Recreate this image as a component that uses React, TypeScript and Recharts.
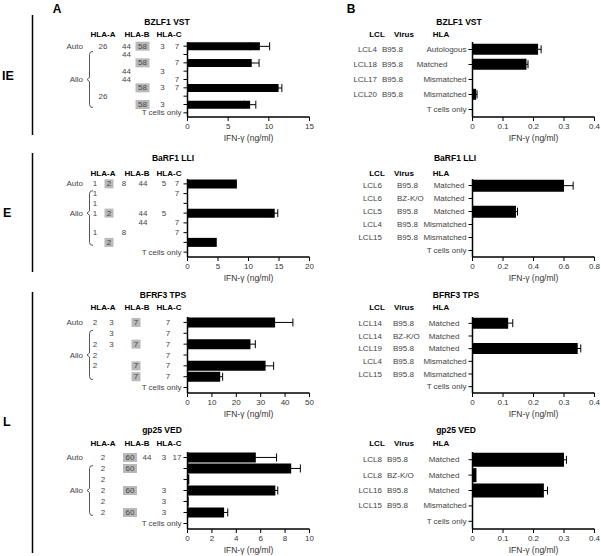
import React from "react";
import { BarChart, Bar, XAxis, YAxis, ErrorBar } from "recharts";

const FONT = "'Liberation Sans', Arial, Helvetica, sans-serif";
const TXT = "#444";

// ---------- IE : BZLF1 VST ----------
const bzlf1Stim = ["Auto", "Allo", "Allo", "Allo", "Allo", "Allo", "Allo", "Allo", "T cells only"];
// "*" = shared (restricting) allele, shown on a grey box
const bzlf1Alleles = [
  ["26", "44", "*58", "3", "7"],
  ["", "44", "", "", ""],
  ["", "", "*58", "", "7"],
  ["", "44", "", "3", ""],
  ["", "44", "", "", "7"],
  ["", "", "*58", "3", "7"],
  ["26", "", "", "", ""],
  ["", "", "*58", "3", ""],
  ["", "", "", "", ""],
];
const bzlf1Ifn = [8.9, 0, 7.9, 0, 0, 11.2, 0, 7.7, 0];
const bzlf1Err = [1.2, 0, 0.9, 0, 0, 0.4, 0, 0.7, 0];
const bzlf1Ticks = [0, 5, 10, 15];

const bzlf1Lcl = ["LCL4", "LCL18", "LCL17", "LCL20", "T cells only"];
const bzlf1Virus = ["B95.8", "B95.8", "B95.8", "B95.8", ""];
const bzlf1Hla = ["Autologous", "Matched", "Mismatched", "Mismatched", ""];
const bzlf1LclIfn = [0.215, 0.177, 0, 0.012, 0];
const bzlf1LclErr = [0.01, 0.005, 0, 0.003, 0];

// ---------- E : BaRF1 LLI ----------
const barf1Stim = ["Auto", "Allo", "Allo", "Allo", "Allo", "Allo", "Allo", "T cells only"];
const barf1Alleles = [
  ["1", "*2", "8", "44", "5", "7"],
  ["1", "", "", "", "", "7"],
  ["1", "", "", "", "", ""],
  ["1", "*2", "", "44", "5", ""],
  ["", "", "", "44", "", "7"],
  ["1", "", "8", "", "", "7"],
  ["", "*2", "", "", "", ""],
  ["", "", "", "", "", ""],
];
const barf1Ifn = [8.1, 0, 0, 14.3, 0, 0, 4.8, 0];
const barf1Err = [0, 0, 0, 0.5, 0, 0, 0, 0];
const barf1Ticks = [0, 5, 10, 15, 20];

const barf1Lcl = ["LCL6", "LCL6", "LCL5", "LCL4", "LCL15", "T cells only"];
const barf1Virus = ["B95.8", "BZ-K/O", "B95.8", "B95.8", "B95.8", ""];
const barf1Hla = ["Matched", "Matched", "Matched", "Mismatched", "Mismatched", ""];
const barf1LclIfn = [0.6, 0, 0.285, 0, 0, 0];
const barf1LclErr = [0.06, 0, 0.01, 0, 0, 0];

// ---------- L : BFRF3 TPS ----------
const bfrf3Stim = ["Auto", "Allo", "Allo", "Allo", "Allo", "Allo", "T cells only"];
const bfrf3Alleles = [
  ["2", "3", "*7", "7"],
  ["", "3", "", "7"],
  ["2", "3", "*7", "7"],
  ["2", "", "", "7"],
  ["2", "", "*7", "7"],
  ["", "", "*7", "7"],
  ["", "", "", ""],
];
const bfrf3Ifn = [35.9, 0, 25.8, 0, 32.0, 13.4, 0];
const bfrf3Err = [7.3, 0, 2.0, 0, 3.3, 1.0, 0];
const bfrf3Ticks = [0, 10, 20, 30, 40, 50];

const bfrf3Lcl = ["LCL14", "LCL14", "LCL19", "LCL4", "LCL15", "T cells only"];
const bfrf3Virus = ["B95.8", "BZ-K/O", "B95.8", "B95.8", "B95.8", ""];
const bfrf3Hla = ["Matched", "Matched", "Matched", "Mismatched", "Mismatched", ""];
const bfrf3LclIfn = [0.117, 0, 0.345, 0, 0, 0];
const bfrf3LclErr = [0.015, 0, 0.01, 0, 0, 0];

// ---------- L : gp25 VED ----------
const gp25Stim = ["Auto", "Allo", "Allo", "Allo", "Allo", "Allo", "T cells only"];
const gp25Alleles = [
  ["2", "*60", "44", "3", "17"],
  ["2", "*60", "", "", ""],
  ["2", "", "", "", ""],
  ["2", "*60", "", "3", ""],
  ["2", "", "", "3", ""],
  ["2", "*60", "", "3", ""],
  ["", "", "", "", ""],
];
const gp25Ifn = [5.6, 8.5, 0.15, 7.2, 0.1, 3.0, 0];
const gp25Err = [1.7, 0.75, 0, 0.2, 0, 0.3, 0];
const gp25Ticks = [0, 2, 4, 6, 8, 10];

const gp25Lcl = ["LCL8", "LCL8", "LCL16", "LCL15", "T cells only"];
const gp25Virus = ["B95.8", "BZ-K/O", "B95.8", "B95.8", ""];
const gp25Hla = ["Matched", "Matched", "Matched", "Mismatched", ""];
const gp25LclIfn = [0.3, 0.013, 0.234, 0, 0];
const gp25LclErr = [0.008, 0, 0.012, 0, 0];

const lclTicks4 = [0, 0.1, 0.2, 0.3, 0.4];
const lclTicks8 = [0, 0.2, 0.4, 0.6, 0.8];

// ---------- layout ----------
const A_AXIS = 187.5;
const B_AXIS = 472.5;
const PLOT_W = 122;
const MT = 4;
const XH = 18;

const ROWS = [
  { top: 42, bottom: 117, titleY: 21.5, headerY: 34 },
  { top: 178.5, bottom: 256.5, titleY: 158, headerY: 173 },
  { top: 316.5, bottom: 392.5, titleY: 295, headerY: 307.5 },
  { top: 452, bottom: 529, titleY: 430, headerY: 443.5 },
];

const axisLine = { stroke: "#000", strokeWidth: 1.5 };
const tickLine = { stroke: "#000", strokeWidth: 1 };
const tickFont = { fontSize: 8, fill: "#333", fontFamily: FONT };

const Label = ({ x, y, anchor = "middle", children }: any) => (
  <text
    x={x}
    y={y}
    textAnchor={anchor}
    dominantBaseline="central"
    fontSize={8}
    fill={TXT}
    stroke="none"
    fontFamily={FONT}
  >
    {children}
  </text>
);

type AlleleProps = {
  stim: string[];
  alleles: string[][];
  ifn: number[];
  err: number[];
  ticks: number[];
  cols: number[];
  pos: { top: number; bottom: number };
};

const AllelePanel = ({ stim, alleles, ifn, err, ticks, cols, pos }: AlleleProps) => {
  const data = stim.map((s, i) => ({ key: String(i), value: ifn[i], err: err[i] }));
  const n = stim.length;
  const band = (pos.bottom - pos.top) / n;
  const firstAllo = stim.indexOf("Allo");
  const lastAllo = stim.lastIndexOf("Allo");
  const alloMid = Math.floor((firstAllo + lastAllo) / 2);
  const width = A_AXIS + PLOT_W + 14;
  const height = MT + (pos.bottom - pos.top) + XH;

  const renderTick = (p: any) => {
    const i = Number(p.payload.value);
    const y = p.y;
    const items: React.ReactNode[] = [];
    if (stim[i] === "T cells only") {
      items.push(
        <Label key="t" x={A_AXIS - 6} y={y} anchor="end">
          T cells only
        </Label>
      );
    } else {
      alleles[i].forEach((a, c) => {
        if (!a) return;
        const hi = a.startsWith("*");
        const label = hi ? a.slice(1) : a;
        if (hi) {
          const w = label.length * 5 + 4;
          items.push(
            <rect key={`r${c}`} x={cols[c] - w / 2} y={y - 4.5} width={w} height={9} fill="#b9b9b9" stroke="none" />
          );
        }
        items.push(
          <Label key={`a${c}`} x={cols[c]} y={y}>
            {label}
          </Label>
        );
      });
    }
    if (i === 0) {
      items.push(
        <Label key="auto" x={83} y={y} anchor="end">
          {stim[0]}
        </Label>
      );
    }
    if (i === alloMid) {
      const top = y - (alloMid - firstAllo) * band - 3;
      const bot = y + (lastAllo - alloMid) * band + 3;
      items.push(
        <Label key="allo" x={83} y={y} anchor="end">
          Allo
        </Label>
      );
      items.push(
        <path
          key="brace"
          d={`M93 ${top} Q89.5 ${top} 89.5 ${top + 3} L89.5 ${y - 2} L87 ${y} L89.5 ${y + 2} L89.5 ${bot - 3} Q89.5 ${bot} 93 ${bot}`}
          fill="none"
          stroke="#555"
          strokeWidth={1}
        />
      );
    }
    return <g>{items}</g>;
  };

  return (
    <div style={{ position: "absolute", left: 0, top: pos.top - MT }}>
      <BarChart
        width={width}
        height={height}
        data={data}
        layout="vertical"
        margin={{ top: MT, right: width - A_AXIS - PLOT_W, bottom: 0, left: 0 }}
        barCategoryGap="4%"
      >
        <XAxis
          type="number"
          domain={[0, ticks[ticks.length - 1]]}
          ticks={ticks}
          height={XH}
          axisLine={axisLine}
          tickLine={tickLine}
          tickSize={4}
          tickMargin={2}
          tick={tickFont}
        />
        <YAxis
          type="category"
          dataKey="key"
          width={A_AXIS}
          interval={0}
          axisLine={axisLine}
          tickLine={tickLine}
          tickSize={4}
          tick={renderTick}
        />
        <Bar dataKey="value" fill="#000" isAnimationActive={false}>
          <ErrorBar dataKey="err" direction="x" width={4} stroke="#000" strokeWidth={1} />
        </Bar>
      </BarChart>
    </div>
  );
};

type LclProps = {
  lcl: string[];
  virus: string[];
  hla: string[];
  ifn: number[];
  err: number[];
  ticks: number[];
  cols: number[]; // lcl right edge, virus left edge, hla centre
  pos: { top: number; bottom: number };
  gap: string;
};

const LclPanel = ({ lcl, virus, hla, ifn, err, ticks, cols, pos, gap }: LclProps) => {
  const data = lcl.map((s, i) => ({ key: String(i), value: ifn[i], err: err[i] }));
  const width = 601;
  const height = MT + (pos.bottom - pos.top) + XH;

  const renderTick = (p: any) => {
    const i = Number(p.payload.value);
    const y = p.y;
    if (!virus[i]) {
      return (
        <Label x={B_AXIS - 6} y={y} anchor="end">
          {lcl[i]}
        </Label>
      );
    }
    const long = hla[i].length >= 10;
    return (
      <g>
        <Label x={cols[0]} y={y} anchor="end">
          {lcl[i]}
        </Label>
        <Label x={cols[1]} y={y} anchor="start">
          {virus[i]}
        </Label>
        <Label x={long ? B_AXIS - 6 : cols[2]} y={y} anchor={long ? "end" : "middle"}>
          {hla[i]}
        </Label>
      </g>
    );
  };

  return (
    <div style={{ position: "absolute", left: 0, top: pos.top - MT }}>
      <BarChart
        width={width}
        height={height}
        data={data}
        layout="vertical"
        margin={{ top: MT, right: width - B_AXIS - PLOT_W, bottom: 0, left: 0 }}
        barCategoryGap={gap}
      >
        <XAxis
          type="number"
          domain={[0, ticks[ticks.length - 1]]}
          ticks={ticks}
          height={XH}
          axisLine={axisLine}
          tickLine={tickLine}
          tickSize={4}
          tickMargin={2}
          tick={tickFont}
        />
        <YAxis
          type="category"
          dataKey="key"
          width={B_AXIS}
          interval={0}
          axisLine={axisLine}
          tickLine={tickLine}
          tickSize={4}
          tick={renderTick}
        />
        <Bar dataKey="value" fill="#000" isAnimationActive={false}>
          <ErrorBar dataKey="err" direction="x" width={4} stroke="#000" strokeWidth={1} />
        </Bar>
      </BarChart>
    </div>
  );
};

const titlesA = [
  { title: "BZLF1 VST", x: 167 },
  { title: "BaRF1 LLI", x: 173 },
  { title: "BFRF3 TPS", x: 163 },
  { title: "gp25 VED", x: 162 },
];
const titlesB = [
  { title: "BZLF1 VST", x: 459 },
  { title: "BaRF1 LLI", x: 455 },
  { title: "BFRF3 TPS", x: 456 },
  { title: "gp25 VED", x: 456 },
];

const Overlay = () => (
  <svg
    width={601}
    height={556}
    style={{ position: "absolute", left: 0, top: 0, pointerEvents: "none" }}
    fontFamily={FONT}
  >
    <text x={57} y={13} fontSize={12} fontWeight="bold" textAnchor="middle">A</text>
    <text x={351} y={13} fontSize={12} fontWeight="bold" textAnchor="middle">B</text>
    <text x={2} y={80} fontSize={12.5} fontWeight="bold">IE</text>
    <text x={3} y={217} fontSize={12.5} fontWeight="bold">E</text>
    <text x={3} y={426} fontSize={12.5} fontWeight="bold">L</text>
    <line x1={32.5} x2={32.5} y1={15} y2={135} stroke="#000" strokeWidth={1.5} />
    <line x1={32.5} x2={32.5} y1={153} y2={272} stroke="#000" strokeWidth={1.5} />
    <line x1={32.5} x2={32.5} y1={292} y2={553} stroke="#000" strokeWidth={1.5} />
    {ROWS.map((r, k) => (
      <g key={k}>
        <text x={titlesA[k].x} y={r.titleY} fontSize={8.5} fontWeight="bold" textAnchor="middle" dominantBaseline="central">
          {titlesA[k].title}
        </text>
        <text x={titlesB[k].x} y={r.titleY} fontSize={8.5} fontWeight="bold" textAnchor="middle" dominantBaseline="central">
          {titlesB[k].title}
        </text>
        <g fontSize={8} fontWeight="bold" textAnchor="middle" dominantBaseline="central">
          <text x={103} y={r.headerY}>HLA-A</text>
          <text x={137} y={r.headerY}>HLA-B</text>
          <text x={169} y={r.headerY}>HLA-C</text>
          <text x={377} y={r.headerY}>LCL</text>
          <text x={404} y={r.headerY}>Virus</text>
          <text x={441} y={r.headerY}>HLA</text>
        </g>
        <g fontSize={8.5} fill="#333" textAnchor="middle" dominantBaseline="central">
          <text x={A_AXIS + PLOT_W / 2} y={r.bottom + 21}>IFN-γ (ng/ml)</text>
          <text x={B_AXIS + PLOT_W / 2} y={r.bottom + 21}>IFN-γ (ng/ml)</text>
        </g>
      </g>
    ))}
  </svg>
);

export default function App() {
  return (
    <div
      style={{
        position: "absolute",
        left: 0,
        top: 0,
        width: 601,
        height: 556,
        background: "#fff",
        overflow: "hidden",
        fontFamily: FONT,
      }}
    >
      <AllelePanel stim={bzlf1Stim} alleles={bzlf1Alleles} ifn={bzlf1Ifn} err={bzlf1Err} ticks={bzlf1Ticks} cols={[103, 126.5, 142.5, 162.5, 177]} pos={ROWS[0]} />
      <AllelePanel stim={barf1Stim} alleles={barf1Alleles} ifn={barf1Ifn} err={barf1Err} ticks={barf1Ticks} cols={[95, 109, 124, 143, 164, 177]} pos={ROWS[1]} />
      <AllelePanel stim={bfrf3Stim} alleles={bfrf3Alleles} ifn={bfrf3Ifn} err={bfrf3Err} ticks={bfrf3Ticks} cols={[95, 111.5, 136, 168]} pos={ROWS[2]} />
      <AllelePanel stim={gp25Stim} alleles={gp25Alleles} ifn={gp25Ifn} err={gp25Err} ticks={gp25Ticks} cols={[103, 130, 147, 164, 177]} pos={ROWS[3]} />

      <LclPanel lcl={bzlf1Lcl} virus={bzlf1Virus} hla={bzlf1Hla} ifn={bzlf1LclIfn} err={bzlf1LclErr} ticks={lclTicks4} cols={[377, 382, 432]} pos={ROWS[0]} gap="12%" />
      <LclPanel lcl={barf1Lcl} virus={barf1Virus} hla={barf1Hla} ifn={barf1LclIfn} err={barf1LclErr} ticks={lclTicks8} cols={[382, 397, 449]} pos={ROWS[1]} gap="5%" />
      <LclPanel lcl={bfrf3Lcl} virus={bfrf3Virus} hla={bfrf3Hla} ifn={bfrf3LclIfn} err={bfrf3LclErr} ticks={lclTicks4} cols={[382, 393, 444]} pos={ROWS[2]} gap="5%" />
      <LclPanel lcl={gp25Lcl} virus={gp25Virus} hla={gp25Hla} ifn={gp25LclIfn} err={gp25LclErr} ticks={lclTicks4} cols={[382, 387, 444]} pos={ROWS[3]} gap="5%" />

      <Overlay />
    </div>
  );
}
